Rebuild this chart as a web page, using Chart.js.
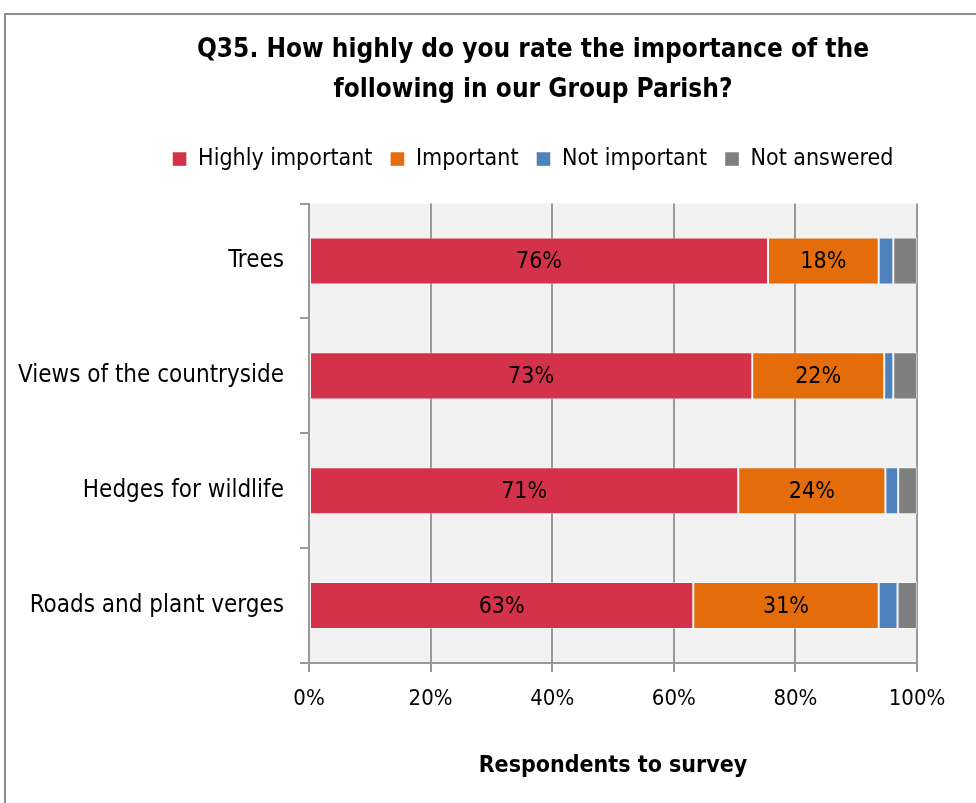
<!DOCTYPE html>
<html>
<head>
<meta charset="utf-8">
<script src="https://cdn.jsdelivr.net/npm/chart.js@4"></script>
<style>
  html, body { margin: 0; padding: 0; background: #fff; overflow: hidden; }
  #frame { position: absolute; left: 4px; top: 13px; width: 1100px; height: 820px; border: 2px solid #8c8c8c; box-sizing: border-box; }
  #wrap { position: absolute; left: 0; top: 0; width: 1066px; height: 803px; }
</style>
</head>
<body>
<div id="frame"></div>
<div id="wrap"><canvas id="chart"></canvas></div>
<script>
const categories = ['Trees', 'Views of the countryside', 'Hedges for wildlife', 'Roads and plant verges'];
const seriesNames = ['Highly important', 'Important', 'Not important', 'Not answered'];
const highlyImportant = [75.5, 72.9, 70.6, 63.2];
const important = [18.2, 21.7, 24.2, 30.5];
const notImportant = [2.4, 1.5, 2.1, 3.1];
const notAnswered = [3.9, 3.9, 3.1, 3.2];
const seriesColors = ['#d4314a', '#e46c0a', '#4f81bd', '#7f7f7f'];
const labelledSeries = [0, 1]; // only these series show % labels
const xTicks = [0, 20, 40, 60, 80, 100];

const FONT = "'Liberation Sans Narrow', 'DejaVu Sans Condensed', Roboto, sans-serif";

// grey plot background
const plotBg = {
    id: 'plotBg',
    beforeDraw(chart) {
        const { ctx, chartArea: a } = chart;
        ctx.save();
        ctx.fillStyle = '#f2f2f2';
        ctx.fillRect(a.left, a.top, a.right - a.left, a.bottom - a.top);
        ctx.restore();
    }
};

// extra gap under the legend
const legendGap = {
    id: 'legendGap',
    beforeInit(chart) {
        const fit = chart.legend.fit;
        chart.legend.fit = function () {
            fit.bind(chart.legend)();
            this.height += 23;
        };
    }
};

// category labels, drawn by hand so they can run left of the y scale box
const catLabels = {
    id: 'catLabels',
    afterDraw(chart) {
        const ctx = chart.ctx;
        const y = chart.scales.y;
        ctx.save();
        ctx.font = '24px ' + FONT;
        ctx.fillStyle = '#000';
        ctx.textAlign = 'right';
        ctx.textBaseline = 'middle';
        categories.forEach((c, i) => {
            ctx.fillText(c, chart.chartArea.left - 25, y.getPixelForValue(i));
        });
        ctx.restore();
    }
};

// percentage labels in the middle of the segments
const barLabels = {
    id: 'barLabels',
    afterDatasetsDraw(chart) {
        const ctx = chart.ctx;
        ctx.save();
        ctx.font = '23px ' + FONT;
        ctx.fillStyle = '#000';
        ctx.textAlign = 'center';
        ctx.textBaseline = 'middle';
        labelledSeries.forEach(i => {
            const meta = chart.getDatasetMeta(i);
            meta.data.forEach((bar, j) => {
                const v = chart.data.datasets[i].data[j];
                const p = bar.getProps(['x', 'y', 'base'], true);
                ctx.fillText(Math.round(v) + '%', (p.x + p.base) / 2, p.y + 1);
            });
        });
        ctx.restore();
    }
};

const allSeries = [highlyImportant, important, notImportant, notAnswered];

new Chart(document.getElementById('chart'), {
    type: 'bar',
    data: {
        labels: categories,
        datasets: allSeries.map((d, i) => ({
            label: seriesNames[i],
            data: d,
            backgroundColor: seriesColors[i],
            borderColor: 'rgba(255,255,255,0.45)',
            borderWidth: 1,
            borderSkipped: false,
            barPercentage: 1,
            categoryPercentage: 0.41
        }))
    },
    options: {
        indexAxis: 'y',
        responsive: true,
        maintainAspectRatio: false,
        animation: false,
        layout: { padding: { left: 149, right: 149, top: 30, bottom: 23 } },
        plugins: {
            title: {
                display: true,
                text: ['Q35. How highly do you rate the importance of the', 'following in our Group Parish?'],
                color: '#000',
                font: { family: FONT, size: 26, weight: 'bold', lineHeight: 1.55 },
                padding: { top: 0, bottom: 19 }
            },
            legend: {
                position: 'top',
                labels: {
                    color: '#000',
                    font: { family: FONT, size: 23 },
                    boxWidth: 14,
                    boxHeight: 14,
                    padding: 18
                }
            },
            tooltip: { enabled: false }
        },
        scales: {
            x: {
                stacked: true,
                min: 0,
                max: 100,
                ticks: {
                    stepSize: 20,
                    color: '#000',
                    font: { family: FONT, size: 22 },
                    padding: 14,
                    callback: v => xTicks.includes(v) ? v + '%' : ''
                },
                grid: { color: '#999', lineWidth: 2, tickLength: 9, tickColor: '#999' },
                border: { color: '#999', width: 2 },
                title: {
                    display: true,
                    text: 'Respondents to survey',
                    color: '#000',
                    font: { family: FONT, size: 23, weight: 'bold' },
                    padding: { top: 26, bottom: 0 }
                }
            },
            y: {
                stacked: true,
                afterFit(scale) { scale.width = 160; },
                ticks: { display: false },
                grid: { drawOnChartArea: false, offset: true, tickLength: 9, color: '#999', lineWidth: 2 },
                border: { color: '#999', width: 2 }
            }
        }
    },
    plugins: [plotBg, legendGap, catLabels, barLabels]
});
</script>
</body>
</html>
